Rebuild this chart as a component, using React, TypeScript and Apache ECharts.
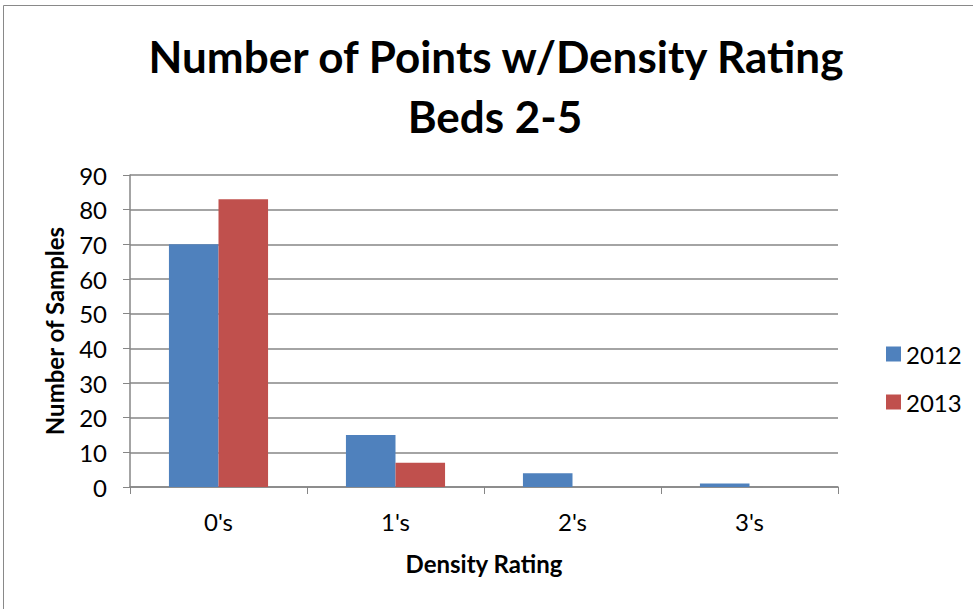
import React, { useEffect, useRef } from "react";
import * as echarts from "echarts";

const categories = ["0's", "1's", "2's", "3's"];
const series2012 = [70, 15, 4, 1];
const series2013 = [83, 7, 0, 0];
const titleLines = ["Number of Points w/Density Rating", "Beds 2-5"];
const FONT = "Lato, 'Open Sans', sans-serif";

export default function App() {
  const ref = useRef<HTMLDivElement>(null);
  useEffect(() => {
    if (!ref.current) return;
    const chart = echarts.init(ref.current, undefined, { renderer: "svg" });
    chart.setOption({
      animation: false,
      backgroundColor: "#ffffff",
      textStyle: { fontFamily: FONT },
      graphic: [
        {
          type: "rect",
          shape: { x: 3.5, y: 5.5, width: 1200, height: 1200 },
          style: { fill: "none", stroke: "#898989", lineWidth: 1 },
          silent: true,
        },
        {
          type: "text",
          style: {
            x: 496, y: 56, text: titleLines[0], textAlign: "center", textVerticalAlign: "middle",
            font: `bold 44px ${FONT}`, fill: "#000",
          },
        },
        {
          type: "text",
          style: {
            x: 495, y: 116, text: titleLines[1], textAlign: "center", textVerticalAlign: "middle",
            font: `bold 44px ${FONT}`, fill: "#000",
          },
        },
      ],
      legend: {
        orient: "vertical",
        left: 881,
        top: 337,
        itemWidth: 15,
        itemHeight: 15,
        itemGap: 24,
        icon: "rect",
        textStyle: { fontSize: 24, color: "#000", fontFamily: FONT },
        data: ["2012", "2013"],
      },
      grid: { left: 130, right: 135, top: 175, bottom: 122 },
      xAxis: {
        type: "category",
        data: categories,
        name: "Density Rating",
        nameLocation: "middle",
        nameGap: 64,
        nameTextStyle: { fontSize: 24, fontWeight: "bold", color: "#000", fontFamily: FONT },
        axisLine: { lineStyle: { color: "#868686", width: 1.5 } },
        axisTick: { show: true, length: 7, interval: 0, lineStyle: { color: "#868686" } },
        axisLabel: { fontSize: 24, color: "#000", margin: 22, fontFamily: FONT },
      },
      yAxis: {
        type: "value",
        min: 0,
        max: 90,
        interval: 10,
        name: "Number of Samples",
        nameLocation: "middle",
        nameGap: 64,
        nameRotate: 90,
        nameTextStyle: { fontSize: 24, fontWeight: "bold", color: "#000", fontFamily: FONT },
        axisLine: { show: true, lineStyle: { color: "#868686", width: 1.5 } },
        axisTick: { show: true, length: 7, lineStyle: { color: "#868686" } },
        axisLabel: { fontSize: 24, color: "#000", margin: 23, fontFamily: FONT },
        splitLine: { lineStyle: { color: "#868686", width: 1.5 } },
      },
      series: [
        {
          name: "2012",
          type: "bar",
          data: series2012,
          barWidth: "28%",
          barGap: "0%",
          itemStyle: { color: "#4F81BD" },
        },
        {
          name: "2013",
          type: "bar",
          data: series2013,
          barWidth: "28%",
          barGap: "0%",
          itemStyle: { color: "#C0504D" },
        },
      ],
    });
    return () => chart.dispose();
  }, []);
  return (
    <div
      ref={ref}
      style={{ position: "fixed", left: 0, top: 0, width: 973, height: 609 }}
    />
  );
}
